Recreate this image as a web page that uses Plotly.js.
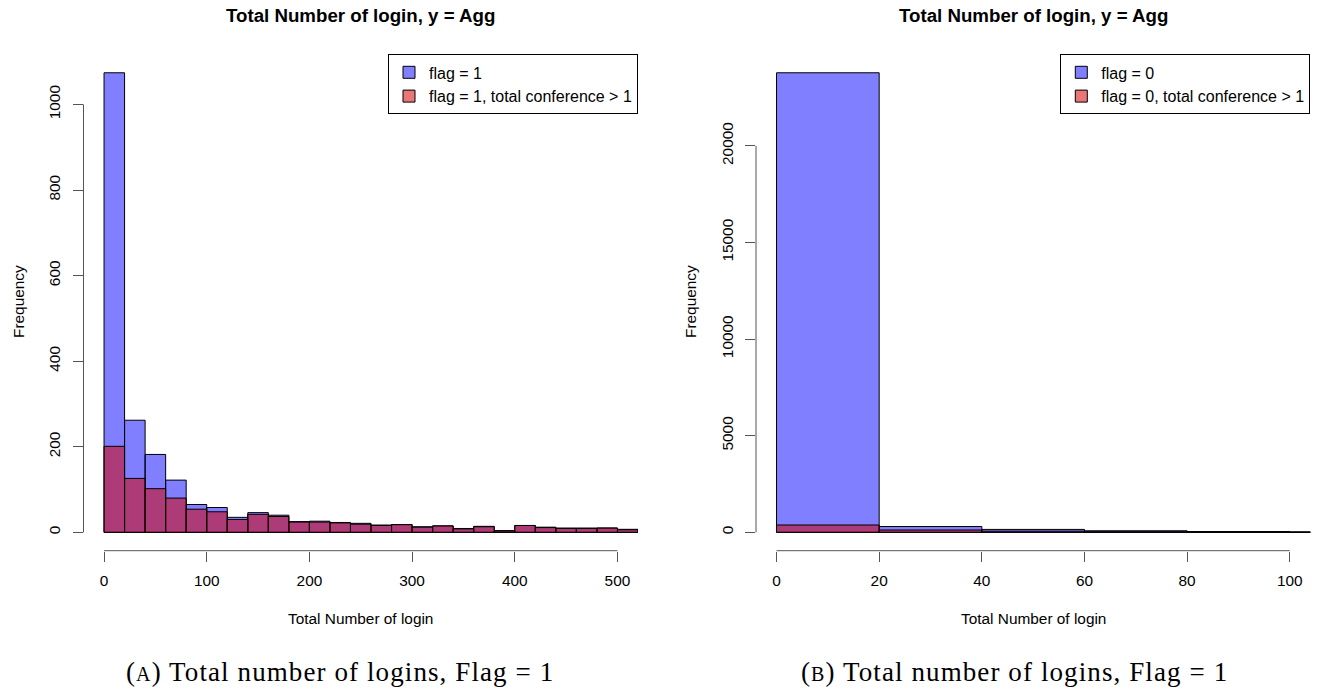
<!DOCTYPE html>
<html>
<head>
<meta charset="utf-8">
<script src="https://cdn.plot.ly/plotly-3.0.1.min.js"></script>
<style>
html,body{margin:0;padding:0;background:#ffffff;}
#chart{width:1317px;height:692px;}
</style>
</head>
<body>
<div id="chart"></div>
<script>
// ---------------- DATA ----------------
// Left panel (A): bins of width 20 starting at these values
const leftBins = [0,20,40,60,80,100,120,140,160,180,200,220,240,260,280,300,320,340,360,380,400,420,440,460,480,500];
const leftFlag1 = [1074,262,182,122,65,58,35,46,40,25,26,23,21,17,18,13,15,9,14,4,16,12,10,10,10,7];
const leftFlag1Conf = [201,126,102,80,54,48,30,42,37,24,24,22,19,16,18,12,15,8,13,3,16,11,9,9,10,6];

// Right panel (B)
const rightBins = [0,20,40,60,80,100];
const rightFlag0 = [23780,300,150,80,40,20];
const rightFlag0Conf = [378,120,60,30,15,8];

const binWidth = 20;
const leftXTicks = [0,100,200,300,400,500];
const leftYTicks = [0,200,400,600,800,1000];
const rightXTicks = [0,20,40,60,80,100];
const rightYTicks = [0,5000,10000,15000,20000];
const leftXLim = [0,500];
const rightXLim = [0,100];

const panelTitle = 'Total Number of login, y = Agg';
const xAxisTitle = 'Total Number of login';
const yAxisTitle = 'Frequency';
const leftNames = ['flag = 1','flag = 1, total conference > 1'];
const rightNames = ['flag = 0','flag = 0, total conference > 1'];
const captionA = '<span style="letter-spacing:1.1px">(<span style="font-size:20px">A</span>) Total number of logins, Flag = 1</span>';
const captionB = '<span style="letter-spacing:1.1px">(<span style="font-size:20px">B</span>) Total number of logins, Flag = 1</span>';

// ---------------- STYLE / GEOMETRY ----------------
const W = 1317, H = 692;
const px = v => v / W;
const py = v => 1 - v / H;
const plotTop = 54.4, plotBottom = 550.7;
const leftPlot = [83.5, 638];
const rightPlot = [756, 1310.3];
const yDom = [py(plotBottom), py(plotTop)];

const blueFill = 'rgba(0,0,255,0.5)';
const redFill = 'rgba(213,0,0,0.535)';
const edge = {color:'#000000', width:1};
const axisCol = '#555555';
const sans = 'Liberation Sans, Arial, Helvetica, sans-serif';
const serif = 'Liberation Serif, Times New Roman, serif';
const baseSize = 15.4;

function pad(lim){ const d = (lim[1]-lim[0])*0.04; return [lim[0]-d, lim[1]+d]; }
const leftYMax = Math.max(...leftFlag1);
const rightYMax = Math.max(...rightFlag0);

function barTrace(xs, ys, name, fill, xa, ya, leg){
  return {
    type:'bar', x:xs, y:ys, name:name, width:binWidth, offset:0,
    marker:{color:fill, line:edge},
    xaxis:xa, yaxis:ya, legend:leg, hoverinfo:'x+y'
  };
}

const data = [
  barTrace(leftBins, leftFlag1, leftNames[0], blueFill, 'x', 'y', 'legend'),
  barTrace(leftBins, leftFlag1Conf, leftNames[1], redFill, 'x', 'y', 'legend'),
  barTrace(rightBins, rightFlag0, rightNames[0], blueFill, 'x2', 'y2', 'legend2'),
  barTrace(rightBins, rightFlag0Conf, rightNames[1], redFill, 'x2', 'y2', 'legend2')
];

function xAxis(dom, lim, ticks, anchor){
  return {
    domain:dom, range:pad(lim), anchor:anchor,
    tickmode:'array', tickvals:ticks, ticktext:ticks.map(String),
    ticks:'outside', ticklen:10, tickwidth:1, tickcolor:axisCol,
    showline:false, showgrid:false, zeroline:false,
    tickfont:{family:sans, size:baseSize, color:'#000'},
    ticklabelstandoff:6, fixedrange:true
  };
}
function yAxis(ymax, ticks, anchor){
  return {
    domain:yDom, range:[-0.04*ymax, 1.04*ymax], anchor:anchor,
    tickmode:'array', tickvals:ticks, ticktext:ticks.map(String),
    ticks:'outside', ticklen:10, tickwidth:1, tickcolor:axisCol, tickangle:-90,
    showline:false, showgrid:false, zeroline:false,
    tickfont:{family:sans, size:baseSize, color:'#000'},
    ticklabelstandoff:6, fixedrange:true
  };
}

function axisLines(xa, ya, xlim, yticks, plotX){
  return [
    {type:'line', xref:xa, yref:'paper', x0:xlim[0], x1:xlim[1], y0:yDom[0], y1:yDom[0], line:{color:axisCol, width:1}},
    {type:'line', xref:'paper', yref:ya, x0:px(plotX[0]), x1:px(plotX[0]), y0:yticks[0], y1:yticks[yticks.length-1], line:{color:axisCol, width:1}}
  ];
}

function ann(text, x, y, size, opts){
  return Object.assign({text:text, xref:'paper', yref:'paper', x:px(x), y:py(y), xanchor:'center', yanchor:'middle', showarrow:false,
    font:{family:sans, size:size, color:'#000'}}, opts||{});
}

const leftCx = (leftPlot[0]+leftPlot[1])/2;
const rightCx = (rightPlot[0]+rightPlot[1])/2;

const annotations = [
  ann('<b>'+panelTitle+'</b>', leftCx, 16, 18.7),
  ann('<b>'+panelTitle+'</b>', rightCx, 16, 18.7),
  ann(xAxisTitle, leftCx, 618, baseSize),
  ann(xAxisTitle, rightCx, 618, baseSize),
  ann(yAxisTitle, 18, 302, baseSize, {textangle:-90}),
  ann(yAxisTitle, 690, 302, baseSize, {textangle:-90}),
  ann(captionA, 340, 672, 27, {font:{family:serif, size:27, color:'#000'}}),
  ann(captionB, 1014, 672, 27, {font:{family:serif, size:27, color:'#000'}})
];

const legendStyle = (xRight) => ({
  x:px(xRight), y:py(plotTop), xanchor:'right', yanchor:'top',
  bgcolor:'#ffffff', bordercolor:'#000000', borderwidth:1,
  font:{family:sans, size:16, color:'#000'},
  traceorder:'normal', tracegroupgap:0, itemclick:false, itemdoubleclick:false
});

const layout = {
  width:W, height:H, autosize:false,
  margin:{l:0, r:0, t:0, b:0, pad:0},
  paper_bgcolor:'#ffffff', plot_bgcolor:'#ffffff',
  barmode:'overlay', bargap:0,
  showlegend:true,
  legend:legendStyle(leftPlot[1]),
  legend2:legendStyle(rightPlot[1]),
  xaxis:xAxis([px(leftPlot[0]), px(leftPlot[1])], leftXLim, leftXTicks, 'y'),
  yaxis:yAxis(leftYMax, leftYTicks, 'x'),
  xaxis2:xAxis([px(rightPlot[0]), px(rightPlot[1])], rightXLim, rightXTicks, 'y2'),
  yaxis2:yAxis(rightYMax, rightYTicks, 'x2'),
  shapes:[].concat(axisLines('x','y',leftXLim,leftYTicks,leftPlot), axisLines('x2','y2',rightXLim,rightYTicks,rightPlot)),
  annotations:annotations,
  font:{family:sans, color:'#000'}
};

Plotly.newPlot('chart', data, layout, {displayModeBar:false, staticPlot:true});
</script>
</body>
</html>
